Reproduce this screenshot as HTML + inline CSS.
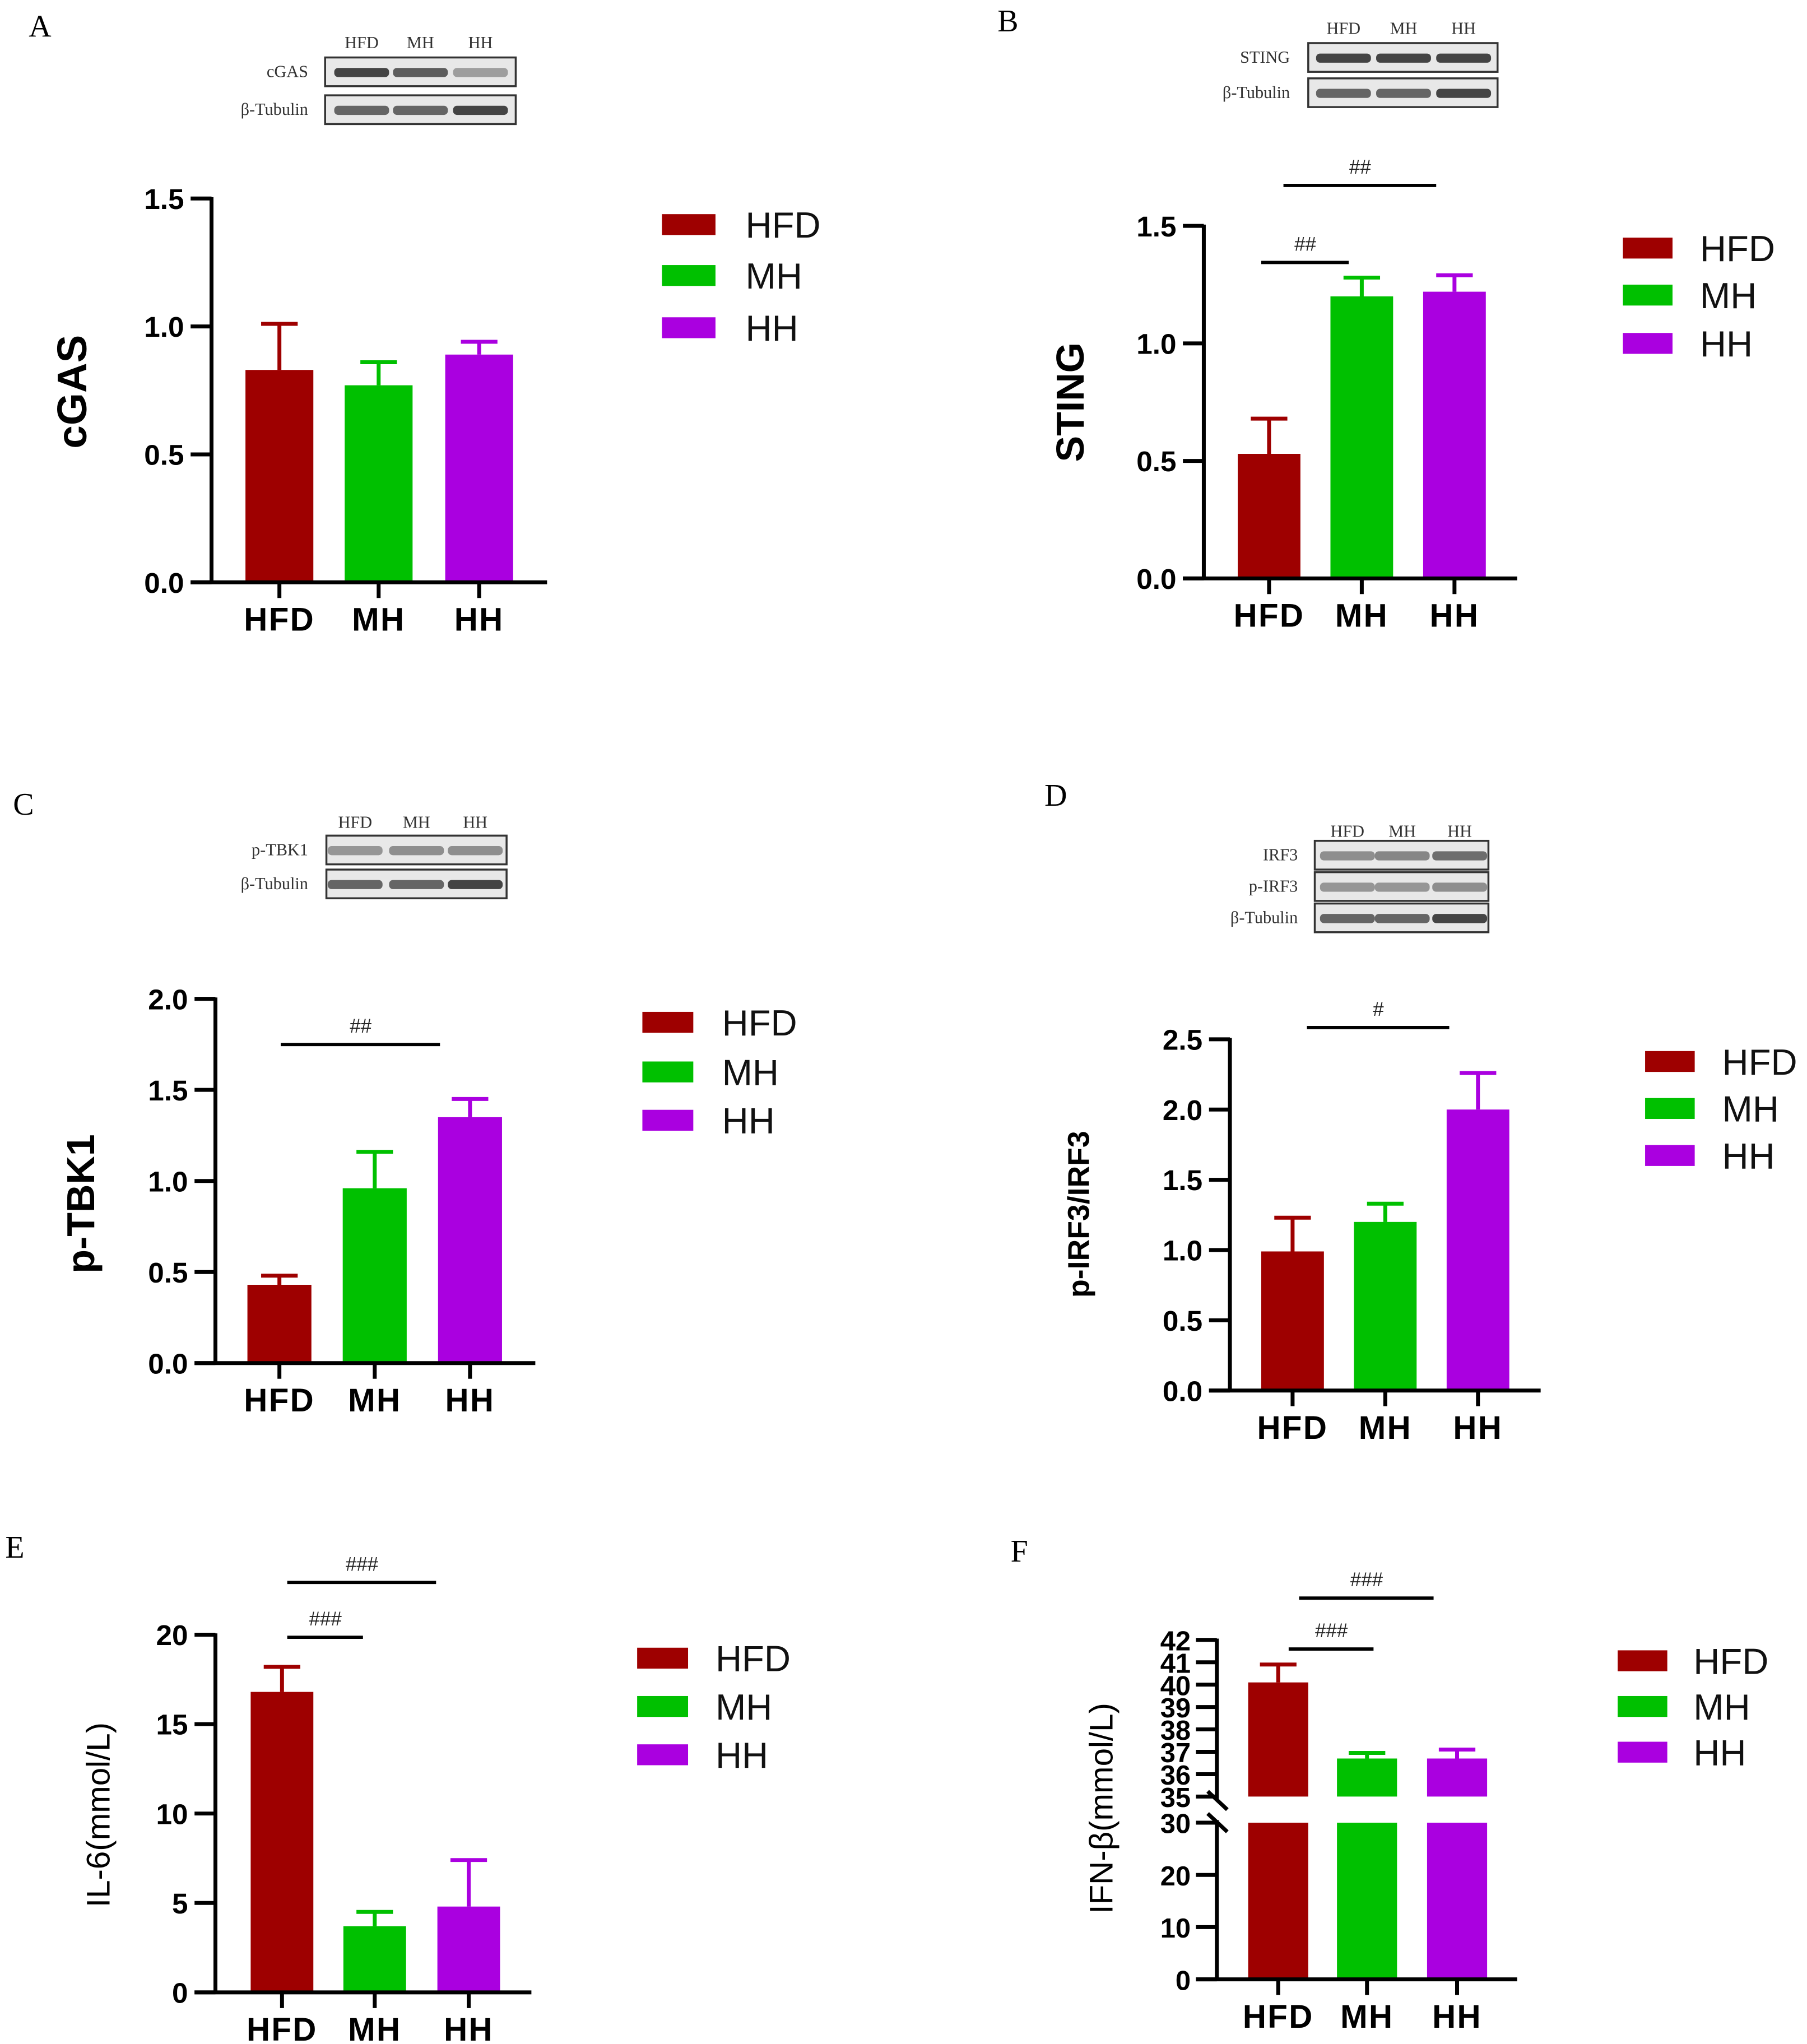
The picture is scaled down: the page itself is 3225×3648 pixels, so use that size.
<!DOCTYPE html>
<html><head><meta charset="utf-8"><style>
html,body{margin:0;padding:0;background:#fff;}
svg{display:block;}
text{font-family:"Liberation Sans",Arial,sans-serif;}
.serif{font-family:"Liberation Serif","DejaVu Serif",serif;}
</style></head><body>
<svg id="fig" xmlns="http://www.w3.org/2000/svg" width="3225" height="3648" viewBox="0 0 1384 1565.5"></svg>
<script>
// ---- data ----
const categories = ["HFD","MH","HH"];
const colors = ["#9e0000","#00c000","#aa00e0"];
const aValues = [0.83,0.77,0.89];
const aErrors = [0.18,0.09,0.05];
const aTicks = ["0.0","0.5","1.0","1.5"];
const bValues = [0.53,1.20,1.22];
const bErrors = [0.15,0.08,0.07];
const bTicks = ["0.0","0.5","1.0","1.5"];
const cValues = [0.43,0.96,1.35];
const cErrors = [0.05,0.20,0.10];
const cTicks = ["0.0","0.5","1.0","1.5","2.0"];
const dValues = [0.99,1.20,2.00];
const dErrors = [0.24,0.13,0.26];
const dTicks = ["0.0","0.5","1.0","1.5","2.0","2.5"];
const eValues = [16.8,3.7,4.8];
const eErrors = [1.4,0.8,2.6];
const eTicks = ["0","5","10","15","20"];
const fValues = [40.1,36.7,36.7];
const fErrors = [0.8,0.25,0.4];
const fTicksLow = ["0","10","20","30"];
const fTicksHigh = ["35","36","37","38","39","40","41","42"];

const svg = document.getElementById('fig');
const NS = "http://www.w3.org/2000/svg";
function mk(tag, attrs, parent){
  const e = document.createElementNS(NS, tag);
  for (const k in attrs) e.setAttribute(k, attrs[k]);
  (parent||svg).appendChild(e);
  return e;
}
function txt(s, attrs, parent){ const t = mk('text', attrs, parent); t.textContent = s; return t; }

function panelLetter(ch, x, y){
  const t = txt(ch, {x:x, y:y, 'font-size':24, class:'serif'});
  
  
}

function blot(g, labelsY, labelXs, boxX, boxW, rows, labelRight){
  labelXs.forEach((x,i)=>{
    const t = txt(categories[i], {x:x, y:labelsY, 'font-size':13, 'text-anchor':'middle', class:'serif', fill:'#333'}, g);
    
    
  });
  rows.forEach(r=>{
    const b = mk('rect', {x:boxX, y:r.y, width:boxW, height:22, fill:'#e8e8e8', stroke:'#333', 'stroke-width':1.5}, g);
    
    
    labelXs.forEach((x,i)=>{
      const band = mk('rect', {x:x-21, y:r.y+8, width:42, height:7, rx:3, fill:'#444', opacity:r.op[i]}, g);
      
      
    });
    const l = txt(r.label, {x:labelRight, y:r.y+15, 'font-size':13, 'text-anchor':'end', class:'serif', fill:'#333'}, g);
    
    
  });
}

function legend(g, rx, rw, ys, tx){
  ys.forEach((y,i)=>{
    const it = mk('g', {}, g);
    
    
    mk('rect', {x:rx, y:y-8, width:rw, height:16, fill:colors[i]}, it);
    txt(categories[i], {x:tx, y:y+10, 'font-size':28, fill:'#111'}, it);
  });
}

function sig(g, label, x1, x2, y){
  const s = mk('g', {}, g);
  
  
  mk('line', {x1:x1, x2:x2, y1:y, y2:y, stroke:'#000', 'stroke-width':2.5}, s);
  txt(label, {x:(x1+x2)/2, y:y-9, 'font-size':15, 'text-anchor':'middle', 'font-style':'italic', fill:'#222'}, s);
}

function chart(o){
  const g = mk('g', {});
  
  
  const y = v => o.y0 - (v - o.vmin) / (o.vmax - o.vmin) * (o.y0 - o.y1);
  o.ticks.forEach((t,i)=>{
    const v = parseFloat(t);
    const yy = y(v);
    const tk = mk('line', {x1:o.ax-16, x2:o.ax, y1:yy, y2:yy, stroke:'#000', 'stroke-width':3}, g);
    
    
    const tl = txt(t, {x:o.ax-21, y:yy+8, 'font-size':o.tickSize||22, 'font-weight':'bold', 'text-anchor':'end'}, g);
    
    
  });
  drawBars(g, o, y, o.vmin);
  const ya = mk('line', {x1:o.ax, x2:o.ax, y1:o.y1-1, y2:o.y0, stroke:'#000', 'stroke-width':3}, g);
  
  
  xAxis(g, o);
  yTitle(g, o);
  return g;
}
function drawBars(g, o, y, base){
  o.values.forEach((v,i)=>{
    const cx = o.cx[i];
    const top = y(v), et = y(v + o.errors[i]);
    const eb = mk('g', {}, g);
    
    
    mk('line', {x1:cx, x2:cx, y1:top, y2:et, stroke:colors[i], 'stroke-width':3}, eb);
    mk('line', {x1:cx-14, x2:cx+14, y1:et, y2:et, stroke:colors[i], 'stroke-width':3}, eb);
    const b = mk('rect', {x:cx-o.bw/2, y:top, width:o.bw, height:y(base)-top, fill:colors[i]}, g);
    
    
  });
}
function xAxis(g, o){
  const xa = mk('line', {x1:o.ax-16, x2:o.xend, y1:o.y0, y2:o.y0, stroke:'#000', 'stroke-width':3}, g);
  
  
  o.cx.forEach((cx,i)=>{
    const tk = mk('line', {x1:cx, x2:cx, y1:o.y0, y2:o.y0+12, stroke:'#000', 'stroke-width':3}, g);
    
    
    const l = txt(categories[i], {x:cx, y:o.y0+37, 'font-size':25, 'font-weight':'bold', 'text-anchor':'middle', 'letter-spacing':1}, g);
    
    
  });
}
function yTitle(g, o){
  const t = txt(o.title, {x:0, y:0, 'font-size':o.titleSize, 'font-weight':o.titleWeight, 'text-anchor':'middle',
    transform:`translate(${o.tx},${o.ty}) rotate(-90)`}, g);
  
  
}

// ---- Panel A ----
panelLetter('A', 22, 28);
{
  const g = chart({name:'chart-cgas', ax:162, y0:446, y1:152, vmin:0, vmax:1.5, ticks:aTicks,
    values:aValues, errors:aErrors, cx:[214,290,367], bw:52, xend:419,
    title:'cGAS', tx:66, ty:300, titleSize:32, titleWeight:'bold'});
  blot(g, 37, [277,322,368], 249, 146, [{y:44,label:'cGAS',op:[1,0.85,0.45]},{y:73,label:'β-Tubulin',op:[0.8,0.8,1]}], 236);
  legend(g, 507, 41, [172,211,251], 571);
}
// ---- Panel B ----
panelLetter('B', 764, 24);
{
  const g = chart({name:'chart-sting', ax:922, y0:443, y1:173, vmin:0, vmax:1.5, ticks:bTicks,
    values:bValues, errors:bErrors, cx:[972,1043,1114], bw:48, xend:1162,
    title:'STING', tx:830, ty:308, titleSize:30, titleWeight:'bold'});
  sig(g, '##', 966, 1033, 201);
  sig(g, '##', 983, 1100, 142);
  blot(g, 26, [1029,1075,1121], 1002, 145, [{y:33,label:'STING',op:[1,1,1]},{y:60,label:'β-Tubulin',op:[0.8,0.8,1]}], 988);
  legend(g, 1243, 38, [190,226,263], 1302);
}
// ---- Panel C ----
panelLetter('C', 10, 624);
{
  const g = chart({name:'chart-ptbk1', ax:165, y0:1044, y1:765, vmin:0, vmax:2.0, ticks:cTicks,
    values:cValues, errors:cErrors, cx:[214,287,360], bw:49, xend:410,
    title:'p-TBK1', tx:72, ty:922, titleSize:30, titleWeight:'bold'});
  sig(g, '##', 215, 337, 800);
  blot(g, 634, [272,319,364], 250, 138, [{y:640,label:'p-TBK1',op:[0.5,0.55,0.55]},{y:666,label:'β-Tubulin',op:[0.8,0.8,1]}], 236);
  legend(g, 492, 39, [783,821,858], 553);
}
// ---- Panel D ----
panelLetter('D', 800, 617);
{
  const g = chart({name:'chart-pirf3-irf3', ax:942, y0:1065, y1:796, vmin:0, vmax:2.5, ticks:dTicks,
    values:dValues, errors:dErrors, cx:[990,1061,1132], bw:48, xend:1180,
    title:'p-IRF3/IRF3', tx:834, ty:930, titleSize:23, titleWeight:'bold'});
  sig(g, '#', 1001, 1110, 787);
  blot(g, 641, [1032,1074,1118], 1007, 133, [{y:644,label:'IRF3',op:[0.55,0.6,0.75]},{y:668,label:'p-IRF3',op:[0.5,0.5,0.55]},{y:692,label:'β-Tubulin',op:[0.8,0.8,1]}], 994);
  legend(g, 1260, 38, [813,849,885], 1319);
}
// ---- Panel E ----
panelLetter('E', 4, 1193);
{
  const g = chart({name:'chart-il6', ax:165, y0:1526, y1:1252, vmin:0, vmax:20, ticks:eTicks,
    values:eValues, errors:eErrors, cx:[216,287,359], bw:48, xend:407,
    title:'IL-6(mmol/L)', tx:84, ty:1390, titleSize:25, titleWeight:'normal'});
  sig(g, '###', 220, 278, 1254);
  sig(g, '###', 220, 334, 1212);
  legend(g, 488, 39, [1270,1307,1344], 548);
}
// ---- Panel F (broken axis) ----
panelLetter('F', 774, 1196);
{
  const g = mk('g', {});
  
  
  const o = {ax:932, y0:1516, xend:1162, cx:[979,1047,1116], bw:46, values:fValues, errors:fErrors};
  const yLow = v => 1516 - v / 30 * 120;
  const yHigh = v => 1376 - (v - 35) / 7 * 120;
  const drawTicks = (ticks, y) => ticks.forEach(t=>{
    const yy = y(parseFloat(t));
    const tk = mk('line', {x1:o.ax-16, x2:o.ax, y1:yy, y2:yy, stroke:'#000', 'stroke-width':3}, g);
    
    
    const tl = txt(t, {x:o.ax-20, y:yy+8, 'font-size':21, 'font-weight':'bold', 'text-anchor':'end'}, g);
    
    
  });
  drawTicks(fTicksLow, yLow);
  drawTicks(fTicksHigh, yHigh);
  o.values.forEach((v,i)=>{
    const cx = o.cx[i];
    const top = yHigh(v), et = yHigh(v + o.errors[i]);
    const eb = mk('g', {}, g);
    
    
    mk('line', {x1:cx, x2:cx, y1:top, y2:et, stroke:colors[i], 'stroke-width':3}, eb);
    mk('line', {x1:cx-14, x2:cx+14, y1:et, y2:et, stroke:colors[i], 'stroke-width':3}, eb);
    const b1 = mk('rect', {x:cx-o.bw/2, y:top, width:o.bw, height:yHigh(35)-top, fill:colors[i]}, g);
    
    
    const lowTop = yLow(Math.min(v,30));
    const b2 = mk('rect', {x:cx-o.bw/2, y:lowTop, width:o.bw, height:yLow(0)-lowTop, fill:colors[i]}, g);
    
    
  });
  const up = mk('line', {x1:o.ax, x2:o.ax, y1:yHigh(42)-1, y2:yHigh(35)+2, stroke:'#000', 'stroke-width':3}, g);
  
  
  const lo = mk('line', {x1:o.ax, x2:o.ax, y1:yLow(30)-2, y2:o.y0, stroke:'#000', 'stroke-width':3}, g);
  
  
  const br = mk('g', {}, g);
  
  
  mk('line', {x1:925, x2:940, y1:1372, y2:1386, stroke:'#000', 'stroke-width':3}, br);
  mk('line', {x1:925, x2:940, y1:1389, y2:1403, stroke:'#000', 'stroke-width':3}, br);
  xAxis(g, {ax:o.ax, xend:o.xend, y0:o.y0, cx:o.cx});
  yTitle(g, {title:'IFN-β(mmol/L)', tx:852, ty:1385, titleSize:25, titleWeight:'normal'});
  sig(g, '###', 987, 1052, 1263);
  sig(g, '###', 995, 1098, 1224);
  legend(g, 1239, 38, [1272,1307,1342], 1297);
}
</script>
</body></html>
